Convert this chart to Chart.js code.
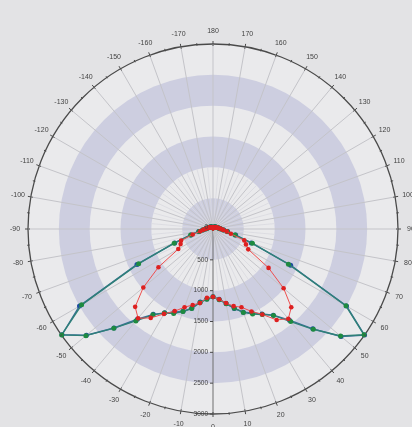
<!DOCTYPE html>
<html>
<head>
<meta charset="utf-8">
<script src="https://cdn.jsdelivr.net/npm/chart.js@4/dist/chart.umd.min.js"></script>
<style>
html, body { margin: 0; padding: 0; background: #e3e3e5; }
#wrap { width: 412px; height: 427px; }
</style>
</head>
<body>
<div id="wrap"><canvas id="polar" width="412" height="427"></canvas></div>
<script>
// angles in degrees, ordered clockwise from the top (180) of the diagram
var angles = [180, 175, 170, 165, 160, 155, 150, 145, 140, 135, 130, 125, 120, 115, 110, 105, 100, 95,
    90, 85, 80, 75, 70, 65, 60, 55, 50, 45, 40, 35, 30, 25, 20, 15, 10, 5,
    0, -5, -10, -15, -20, -25, -30, -35, -40, -45, -50, -55, -60, -65, -70, -75, -80, -85,
    -90, -95, -100, -105, -110, -115, -120, -125, -130, -135, -140, -145, -150, -155, -160, -165, -170, -175];

// luminous intensity (cd), same order as angles
var valuesC0 = [20, 20, 22, 25, 28, 30, 33, 36, 40, 44, 48, 52, 58, 65, 72, 82, 95, 110,
    130, 175, 240, 380, 660, 1390, 2500, 3000, 2710, 2290, 1930, 1705, 1590, 1500, 1435, 1335, 1225, 1145,
    1100, 1140, 1200, 1330, 1420, 1490, 1570, 1690, 1910, 2270, 2680, 2990, 2500, 1360, 660, 370, 235, 170,
    125, 110, 95, 80, 72, 64, 58, 52, 48, 44, 40, 36, 33, 30, 28, 25, 22, 20];

var valuesC90 = [18, 19, 21, 24, 27, 30, 32, 35, 39, 43, 47, 51, 57, 63, 70, 80, 92, 108,
    128, 170, 235, 370, 680, 1350, 2490, 2990, 2700, 2300, 1960, 1710, 1600, 1520, 1440, 1330, 1230, 1150,
    1100, 1145, 1210, 1335, 1425, 1510, 1575, 1700, 1945, 2275, 2690, 2995, 2460, 1330, 670, 375, 230, 168,
    122, 108, 93, 80, 70, 63, 57, 51, 47, 43, 39, 35, 32, 30, 27, 24, 21, 19];

var valuesC45 = [15, 15, 16, 18, 20, 22, 25, 28, 31, 35, 40, 45, 50, 58, 66, 76, 90, 108,
    130, 165, 225, 300, 540, 590, 660, 1100, 1495, 1795, 1900, 1800, 1600, 1475, 1350, 1295, 1220, 1145,
    1100, 1120, 1220, 1275, 1350, 1470, 1590, 1760, 1890, 1785, 1475, 1080, 650, 580, 550, 340, 210, 160,
    125, 105, 88, 75, 65, 57, 50, 45, 40, 35, 31, 28, 25, 22, 20, 18, 16, 15];

var radialTicks = [0, 500, 1000, 1500, 2000, 2500, 3000];

var polarDecor = {
    id: 'polarDecor',
    beforeDraw: function(chart) {
        var ctx = chart.ctx;
        var r = chart.scales.r;
        ctx.save();
        ctx.fillStyle = '#e3e3e5';
        ctx.fillRect(0, 0, chart.width, chart.height);
        // alternating rings
        for (var k = radialTicks.length - 1; k > 0; k--) {
            ctx.beginPath();
            ctx.arc(r.xCenter, r.yCenter, r.getDistanceFromCenterForValue(radialTicks[k]), 0, Math.PI * 2);
            ctx.fillStyle = (k % 2 === 1) ? '#cdcee0' : '#eaeaec';
            ctx.fill();
        }
        // minor 5 degree lines in the inner part
        ctx.strokeStyle = '#d9d9e0';
        ctx.lineWidth = 0.8;
        var inner = r.getDistanceFromCenterForValue(1000);
        for (var i = 0; i < angles.length; i++) {
            if (angles[i] % 10 === 0) continue;
            var p = r.getPointPosition(i, inner);
            ctx.beginPath();
            ctx.moveTo(r.xCenter, r.yCenter);
            ctx.lineTo(p.x, p.y);
            ctx.stroke();
        }
        ctx.restore();
    },
    afterDraw: function(chart) {
        var ctx = chart.ctx;
        var r = chart.scales.r;
        var R = r.drawingArea;
        ctx.save();
        // ticks on the outer circle
        ctx.strokeStyle = '#4a4a4a';
        ctx.lineWidth = 1;
        for (var i = 0; i < angles.length; i++) {
            var big = angles[i] % 10 === 0;
            var a = r.getPointPosition(i, R - (big ? 2 : 1));
            var b = r.getPointPosition(i, R + (big ? 3 : 1.5));
            ctx.beginPath();
            ctx.moveTo(a.x, a.y);
            ctx.lineTo(b.x, b.y);
            ctx.stroke();
        }
        // angle labels
        ctx.fillStyle = '#444';
        ctx.font = '7px "Liberation Sans", Arial, sans-serif';
        ctx.textAlign = 'center';
        ctx.textBaseline = 'middle';
        for (var j = 0; j < angles.length; j++) {
            if (angles[j] % 10 !== 0) continue;
            var p = r.getPointPosition(j, R + 13);
            ctx.fillText(String(angles[j]), p.x, p.y);
        }
        // radial value labels along the 0 degree axis
        var idx0 = angles.indexOf(0);
        ctx.textAlign = 'right';
        ctx.font = '6.5px "Liberation Sans", Arial, sans-serif';
        for (var t = 0; t < radialTicks.length; t++) {
            var q = r.getPointPositionForValue(idx0, radialTicks[t]);
            if (radialTicks[t] === 0) {
                ctx.fillText('0', q.x - 5, q.y - 2);
                continue;
            }
            ctx.fillText(String(radialTicks[t]), q.x - 5, q.y);
            ctx.beginPath();
            ctx.moveTo(q.x - 3, q.y);
            ctx.lineTo(q.x, q.y);
            ctx.stroke();
        }
        ctx.restore();
    }
};

var ctx = document.getElementById('polar').getContext('2d');

var myPolarChart = new Chart(ctx, {
    type: 'radar',
    data: {
        labels: angles,
        datasets: [{
            label: 'C45-C225',
            data: valuesC45,
            borderColor: '#ee5050',
            borderWidth: 1,
            pointBackgroundColor: '#dd2020',
            pointBorderWidth: 0,
            pointRadius: 2.3,
            fill: false
        }, {
            label: 'C90-C270',
            data: valuesC90,
            borderColor: '#2f8078',
            borderWidth: 1.4,
            pointBackgroundColor: '#1e8a40',
            pointBorderWidth: 0,
            pointRadius: 2.5,
            fill: false
        }, {
            label: 'C0-C180',
            data: valuesC0,
            borderColor: '#3a6e9a',
            borderWidth: 1.4,
            pointBackgroundColor: '#1f4ea0',
            pointBorderWidth: 0,
            pointRadius: 2.5,
            fill: false
        }]
    },
    options: {
        responsive: false,
        animation: false,
        layout: { padding: { left: 28, right: 14, top: 44, bottom: 13 } },
        elements: { line: { tension: 0 } },
        plugins: {
            legend: { display: false },
            tooltip: { enabled: false }
        },
        scales: {
            r: {
                min: 0,
                max: 3000,
                startAngle: 0,
                ticks: { display: false, stepSize: 500 },
                pointLabels: { display: false },
                grid: {
                    circular: true,
                    color: function(c) {
                        return (c.tick && c.tick.value === 3000) ? '#4a4a4a' : 'rgba(0,0,0,0)';
                    },
                    lineWidth: 1.3
                },
                angleLines: {
                    color: function(c) {
                        var a = angles[c.index];
                        if (a === 0) return '#6e6e6e';
                        return a % 10 === 0 ? '#c4c4c9' : 'rgba(0,0,0,0)';
                    },
                    lineWidth: 1
                }
            }
        }
    },
    plugins: [polarDecor]
});
</script>
</body>
</html>
